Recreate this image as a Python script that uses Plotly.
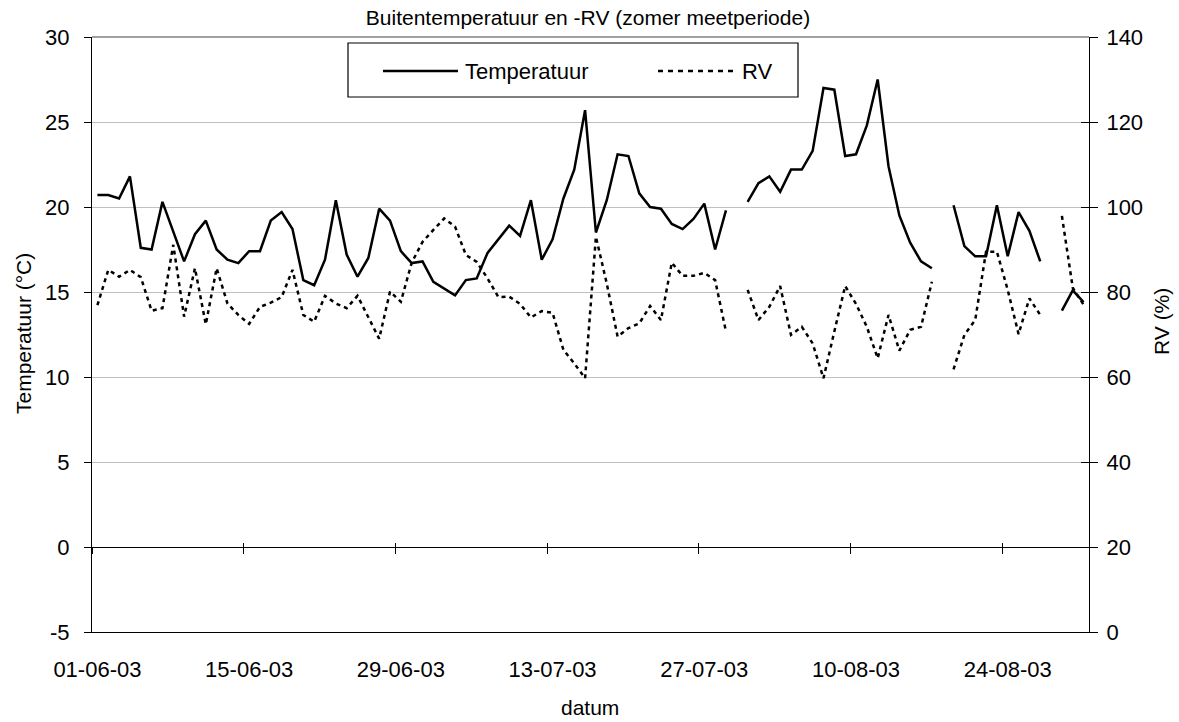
import pandas as pd
import plotly.graph_objects as go

# ---------------- data ----------------
dates = pd.date_range("2003-06-01", "2003-08-31", freq="D")

temperatuur = [
    20.7, 20.7, 20.5, 21.8, 17.6, 17.5, 20.3, 18.6, 16.8, 18.4,
    19.2, 17.5, 16.9, 16.7, 17.4, 17.4, 19.2, 19.7, 18.7, 15.7,
    15.4, 16.9, 20.4, 17.2, 15.9, 17.0, 19.9, 19.2, 17.4, 16.7,
    16.8, 15.6, 15.2, 14.8, 15.7, 15.8, 17.3, 18.1, 18.9, 18.3,
    20.4, 16.9, 18.1, 20.5, 22.2, 25.7, 18.5, 20.4, 23.1, 23.0,
    20.8, 20.0, 19.9, 19.0, 18.7, 19.3, 20.2, 17.5, 19.8, None,
    20.3, 21.4, 21.8, 20.9, 22.2, 22.2, 23.3, 27.0, 26.9, 23.0,
    23.1, 24.8, 27.5, 22.4, 19.5, 17.9, 16.8, 16.4, None, 20.1,
    17.7, 17.1, 17.1, 20.1, 17.1, 19.7, 18.6, 16.8, None, 13.9,
    15.1, 14.4,
]

rv = [
    76.9, 85.2, 83.6, 85.2, 83.5, 75.6, 76.2, 91.1, 74.2, 85.6,
    72.4, 85.6, 77.3, 74.6, 72.5, 76.5, 77.5, 78.8, 85.2, 74.6,
    73.0, 79.1, 77.3, 76.2, 79.1, 74.0, 69.0, 80.1, 77.7, 86.9,
    91.8, 94.6, 97.3, 95.4, 88.7, 87.1, 83.2, 78.8, 78.9, 77.2,
    74.0, 75.5, 75.1, 66.4, 63.2, 59.7, 93.0, 82.0, 69.5, 71.5,
    72.6, 76.7, 73.4, 86.9, 83.8, 83.8, 84.5, 82.8, 70.7, None,
    80.5, 73.4, 76.5, 81.4, 69.9, 71.8, 67.9, 59.7, 70.7, 81.4,
    77.2, 71.8, 64.4, 74.6, 66.2, 71.1, 71.8, 82.4, None, 61.8,
    69.9, 73.4, 89.5, 89.5, 80.5, 70.1, 78.5, 74.6, None, 97.9,
    81.0, 77.0,
]

x_label_dates = pd.date_range("2003-06-01", periods=7, freq="14D")
x_tick_text = ["01-06-03", "15-06-03", "29-06-03", "13-07-03",
               "27-07-03", "10-08-03", "24-08-03"]
y_left_ticks = [-5, 0, 5, 10, 15, 20, 25, 30]
y_left_text = ["-5", "0", "5", "10", "15", "20", "25", "30"]
y_right_ticks = [0, 20, 40, 60, 80, 100, 120, 140]

title_text = "Buitentemperatuur en -RV (zomer meetperiode)"
x_title = "datum"
y_left_title = "Temperatuur (°C)"
y_right_title = "RV (%)"
series_names = ["Temperatuur", "RV"]

# ---------------- figure ----------------
FONT = "Liberation Sans, Arial, sans-serif"
FIG_W, FIG_H = 1179, 722

half_day = pd.Timedelta(hours=12)
x_range = [dates[0] - half_day, dates[-1] + half_day]
boundary_ticks = [d - half_day for d in x_label_dates]

fig = go.Figure()
fig.add_trace(go.Scatter(x=dates, y=temperatuur, name=series_names[0], mode="lines",
                         line=dict(color="black", width=2.5), connectgaps=False,
                         yaxis="y", xaxis="x"))
fig.add_trace(go.Scatter(x=dates, y=rv, name=series_names[1], mode="lines",
                         line=dict(color="black", width=2.5, dash="4px,4px"),
                         connectgaps=False, yaxis="y2", xaxis="x"))
# empty helper traces so the extra tick axes are drawn
fig.add_trace(go.Scatter(x=[], y=[], xaxis="x2", yaxis="y", showlegend=False, hoverinfo="skip"))
fig.add_trace(go.Scatter(x=[], y=[], xaxis="x3", yaxis="y", showlegend=False, hoverinfo="skip"))
fig.add_trace(go.Scatter(x=[], y=[], xaxis="x", yaxis="y3", showlegend=False, hoverinfo="skip"))

axis_font = dict(family=FONT, size=22, color="black")

fig.update_layout(
    width=FIG_W, height=FIG_H,
    margin=dict(l=92, r=1179 - 1089, t=37, b=722 - 632),
    paper_bgcolor="white", plot_bgcolor="white",
    showlegend=False,
    font=dict(family=FONT, size=21, color="black"),
    title=dict(text=title_text, x=588 / FIG_W, xref="container", xanchor="center",
               y=1 - 18 / FIG_H, yref="container", yanchor="middle",
               font=dict(family=FONT, size=21, color="black")),
    xaxis=dict(type="date", range=x_range, tickvals=list(x_label_dates), ticktext=x_tick_text,
               ticks="", showline=True, linecolor="black", linewidth=1, showgrid=False,
               zeroline=False, tickfont=axis_font, ticklabelstandoff=18),
    xaxis2=dict(type="date", range=x_range, overlaying="x", anchor="free", position=1 / 7,
                tickvals=boundary_ticks, showticklabels=False, ticks="outside", ticklen=6,
                tickcolor="black", showline=True, linecolor="black", linewidth=1,
                showgrid=False, zeroline=False),
    xaxis3=dict(type="date", range=x_range, overlaying="x", anchor="free", position=1 / 7,
                tickvals=boundary_ticks, showticklabels=False, ticks="inside", ticklen=4,
                tickcolor="black", showline=False, showgrid=False, zeroline=False),
    yaxis=dict(range=[-5, 30], tickvals=y_left_ticks, ticktext=y_left_text,
               showgrid=True, gridcolor="#c0c0c0", gridwidth=1, zeroline=False,
               showline=True, linecolor="black", linewidth=1,
               ticks="outside", ticklen=7, tickcolor="black",
               tickfont=axis_font, ticklabelstandoff=10),
    yaxis2=dict(range=[0, 140], tickvals=y_right_ticks, overlaying="y", side="right", anchor="x",
                showgrid=False, zeroline=False, showline=True, linecolor="black", linewidth=1,
                ticks="outside", ticklen=8, tickcolor="black", tickfont=axis_font,
                ticklabelstandoff=4),
    yaxis3=dict(range=[0, 140], tickvals=y_right_ticks, overlaying="y", side="right", anchor="x",
                showgrid=False, zeroline=False, showline=False, showticklabels=False,
                ticks="inside", ticklen=8, tickcolor="black"),
)

# page-pixel -> paper coordinates (plot area spans x 92..1089, y 37..632)
def px_x(p):
    return (p - 92) / 997

def px_y(p):
    return (632 - p) / 595

# axis titles
fig.add_annotation(text=x_title, xref="paper", yref="paper", x=px_x(590), y=px_y(707),
                   xanchor="center", yanchor="middle", showarrow=False,
                   font=dict(family=FONT, size=21, color="black"))
fig.add_annotation(text=y_left_title, xref="paper", yref="paper", x=px_x(23), y=px_y(334),
                   xanchor="center", yanchor="middle", showarrow=False, textangle=-90,
                   font=dict(family=FONT, size=21, color="black"))
fig.add_annotation(text=y_right_title, xref="paper", yref="paper", x=px_x(1161), y=px_y(322),
                   xanchor="center", yanchor="middle", showarrow=False, textangle=-90,
                   font=dict(family=FONT, size=21, color="black"))

# plot-area top border (grey) and legend box
fig.add_shape(type="line", xref="paper", yref="paper", x0=0, x1=1, y0=1, y1=1,
              line=dict(color="#808080", width=1.5))
fig.add_shape(type="rect", xref="paper", yref="paper",
              x0=px_x(348), x1=px_x(798), y0=px_y(97), y1=px_y(43),
              line=dict(color="black", width=1.2), fillcolor="white")
fig.add_shape(type="line", xref="paper", yref="paper",
              x0=px_x(383), x1=px_x(458), y0=px_y(71), y1=px_y(71),
              line=dict(color="black", width=2.5))
fig.add_shape(type="line", xref="paper", yref="paper",
              x0=px_x(658), x1=px_x(737), y0=px_y(71), y1=px_y(71),
              line=dict(color="black", width=2.5, dash="5px,5px"))
fig.add_annotation(text=series_names[0], xref="paper", yref="paper", x=px_x(463), y=px_y(71),
                   xanchor="left", yanchor="middle", showarrow=False,
                   font=dict(family=FONT, size=22, color="black"))
fig.add_annotation(text=series_names[1], xref="paper", yref="paper", x=px_x(740), y=px_y(71),
                   xanchor="left", yanchor="middle", showarrow=False,
                   font=dict(family=FONT, size=22, color="black"))

# remove the browser's default 8px body margin so the figure fills the window exactly
fig.write_html("out.html", config={"displayModeBar": False},
               post_script="document.body.style.margin='0px';")
